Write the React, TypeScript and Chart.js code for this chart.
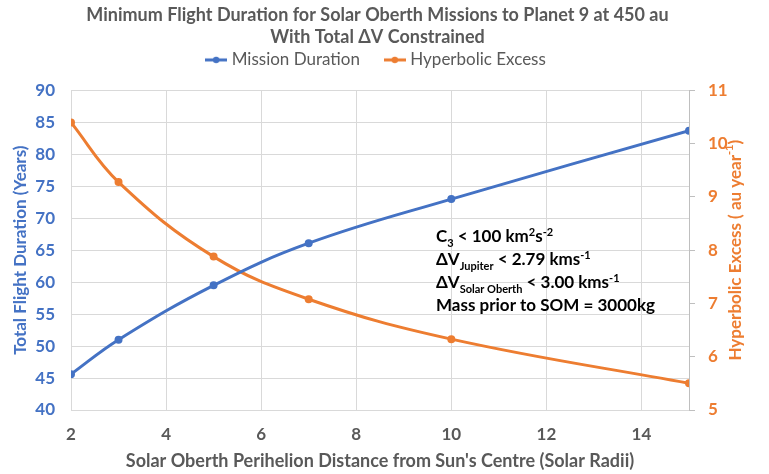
import React, { useEffect, useRef } from "react";
import { Chart, registerables, layouts } from "chart.js";

Chart.register(...registerables);

const perihelion = [2, 3, 5, 7, 10, 15];
const missionDuration = [45.6, 51.0, 59.5, 66.1, 73.0, 83.7];
const hyperbolicExcess = [10.4, 9.28, 7.88, 7.08, 6.33, 5.5];
const xTicks = [2, 4, 6, 8, 10, 12, 14];

const titleLines = [
  "Minimum Flight Duration for Solar Oberth Missions to Planet 9 at 450 au",
  "With Total \u0394V Constrained",
];
const seriesNames = ["Mission Duration", "Hyperbolic Excess"];
const xTitle = "Solar Oberth Perihelion Distance from Sun's Centre (Solar Radii)";
const yLeftTitle = "Total Flight Duration (Years)";

type Seg = { t: string; k?: "sub" | "sup" };
const yRightTitle: Seg[] = [{ t: "Hyperbolic Excess ( au year" }, { t: "-1", k: "sup" }, { t: ")" }];
const noteLines: Seg[][] = [
  [{ t: "C" }, { t: "3", k: "sub" }, { t: " < 100 km" }, { t: "2", k: "sup" }, { t: "s" }, { t: "-2", k: "sup" }],
  [{ t: "\u0394V" }, { t: "Jupiter", k: "sub" }, { t: " < 2.79 kms" }, { t: "-1", k: "sup" }],
  [{ t: "\u0394V" }, { t: "Solar Oberth", k: "sub" }, { t: " < 3.00 kms" }, { t: "-1", k: "sup" }],
  [{ t: "Mass prior to SOM = 3000kg" }],
];

const BLUE = "#4472C4";
const ORANGE = "#ED7D31";
const GRAY = "#595959";
const FONT = "Lato, 'Open Sans', sans-serif";

function legendIcon(color: string): HTMLCanvasElement {
  const c = document.createElement("canvas");
  c.width = 22;
  c.height = 10;
  const ctx = c.getContext("2d")!;
  ctx.strokeStyle = color;
  ctx.lineWidth = 3;
  ctx.beginPath();
  ctx.moveTo(0, 5);
  ctx.lineTo(22, 5);
  ctx.stroke();
  ctx.fillStyle = color;
  ctx.beginPath();
  ctx.arc(11, 5, 3.2, 0, Math.PI * 2);
  ctx.fill();
  return c;
}

function drawRich(ctx: CanvasRenderingContext2D, segs: Seg[], x: number, y: number, size: number, small: number, measureOnly = false): number {
  let cx = x;
  for (const s of segs) {
    let sz = size;
    let dy = 0;
    if (s.k === "sub") {
      sz = small;
      dy = size * 0.24;
    } else if (s.k === "sup") {
      sz = small;
      dy = -size * 0.4;
    }
    ctx.font = `bold ${sz}px ${FONT}`;
    if (!measureOnly) ctx.fillText(s.t, cx, y + dy);
    cx += ctx.measureText(s.t).width;
  }
  return cx - x;
}

const spacerPlugin = {
  id: "spacerPlugin",
  beforeInit(chart: any) {
    const box: any = {
      position: "top",
      weight: 500,
      fullSize: true,
      options: {},
      width: 0,
      height: 0,
      left: 0,
      top: 0,
      right: 0,
      bottom: 0,
      isHorizontal() {
        return true;
      },
      update(maxWidth: number) {
        this.width = maxWidth;
        this.height = 12;
      },
      draw() {},
    };
    layouts.addBox(chart, box);
  },
};

const notePlugin = {
  id: "notePlugin",
  afterDraw(chart: any) {
    const ctx = chart.ctx as CanvasRenderingContext2D;
    const area = chart.chartArea;
    ctx.save();
    ctx.fillStyle = "#000";
    ctx.textBaseline = "alphabetic";
    ctx.textAlign = "left";
    let y = area.top + 152;
    for (const line of noteLines) {
      drawRich(ctx, line, area.left + 365, y, 17, 11);
      y += 23;
    }
    // right axis title, reading bottom to top
    const w = drawRich(ctx, yRightTitle, 0, 0, 17, 11, true);
    ctx.translate(chart.width - 33, (area.top + area.bottom) / 2);
    ctx.rotate(-Math.PI / 2);
    ctx.fillStyle = ORANGE;
    ctx.textBaseline = "middle";
    drawRich(ctx, yRightTitle, -w / 2, 0, 17, 11);
    ctx.restore();
  },
};

export default function App() {
  const ref = useRef<HTMLCanvasElement>(null);
  useEffect(() => {
    document.body.style.margin = "0";
    const blueIcon = legendIcon(BLUE);
    const orangeIcon = legendIcon(ORANGE);
    const chart = new Chart(ref.current!, {
      type: "line",
      data: {
        datasets: [
          {
            label: seriesNames[0],
            data: perihelion.map((x, i) => ({ x, y: missionDuration[i] })),
            borderColor: BLUE,
            backgroundColor: BLUE,
            borderWidth: 3,
            pointRadius: 2.5,
            tension: 0.4,
            yAxisID: "y",
          },
          {
            label: seriesNames[1],
            data: perihelion.map((x, i) => ({ x, y: hyperbolicExcess[i] })),
            borderColor: ORANGE,
            backgroundColor: ORANGE,
            borderWidth: 3,
            pointRadius: 2.5,
            tension: 0.4,
            yAxisID: "y1",
          },
        ],
      },
      options: {
        animation: false,
        responsive: false,
        maintainAspectRatio: false,
        layout: { padding: { top: 2, left: 6, right: 20, bottom: 2 } },
        plugins: {
          title: {
            display: true,
            text: titleLines,
            color: GRAY,
            font: { family: FONT, size: 18, weight: "bold", lineHeight: 1.22 },
            padding: { top: 2, bottom: -20 },
          },
          legend: {
            display: true,
            position: "top",
            labels: {
              color: GRAY,
              font: { family: FONT, size: 17 },
              usePointStyle: true,
              pointStyleWidth: 14,
              padding: 23.5,
              boxHeight: 10,
              generateLabels: (ch: any) =>
                ch.data.datasets.map((d: any, i: number) => ({
                  text: i === 0 ? d.label + " " : d.label,
                  pointStyle: i === 0 ? blueIcon : orangeIcon,
                  fillStyle: d.borderColor,
                  strokeStyle: d.borderColor,
                  fontColor: GRAY,
                  lineWidth: 0,
                  datasetIndex: i,
                  hidden: false,
                })),
            },
          },
          tooltip: { enabled: false },
        },
        scales: {
          x: {
            type: "linear",
            min: 2,
            max: 15,
            afterBuildTicks: (s: any) => {
              s.ticks = xTicks.map((v) => ({ value: v }));
            },
            afterFit: (s: any) => {
              s.height = 62;
            },
            ticks: {
              color: GRAY,
              font: { family: FONT, size: 17, weight: "bold" },
              padding: 14,
            },
            grid: { color: "#D9D9D9", drawTicks: false },
            border: { display: false },
            title: {
              display: true,
              text: xTitle,
              color: GRAY,
              font: { family: FONT, size: 18, weight: "bold" },
              padding: { top: 0, bottom: 0 },
            },
          },
          y: {
            position: "left",
            min: 40,
            max: 90,
            afterFit: (s: any) => {
              s.width = 65;
            },
            ticks: {
              stepSize: 5,
              color: BLUE,
              font: { family: FONT, size: 17, weight: "bold" },
              padding: 16,
            },
            grid: { color: "#D9D9D9", drawTicks: false },
            border: { display: false },
            title: {
              display: true,
              text: yLeftTitle,
              color: BLUE,
              font: { family: FONT, size: 17, weight: "bold" },
              padding: { top: 4, bottom: 0 },
            },
          },
          y1: {
            position: "right",
            min: 5,
            max: 11,
            afterFit: (s: any) => {
              s.width = 60;
            },
            ticks: {
              stepSize: 1,
              color: ORANGE,
              font: { family: FONT, size: 17, weight: "bold" },
              padding: 13,
            },
            grid: {
              drawOnChartArea: false,
              color: "#BFBFBF",
              tickLength: 6,
            },
            border: { display: true, color: "#BFBFBF" },
            title: { display: false },
          },
        },
      } as any,
      plugins: [spacerPlugin, notePlugin],
    });
    return () => chart.destroy();
  }, []);
  return (
    <div style={{ width: 769, height: 474 }}>
      <canvas ref={ref} width={769} height={474} style={{ display: "block" }} />
    </div>
  );
}
